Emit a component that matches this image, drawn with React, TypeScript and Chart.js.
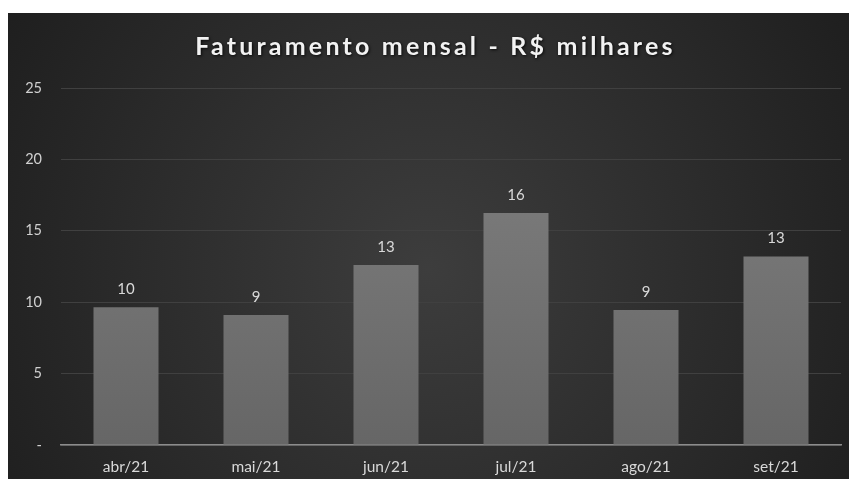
import React, { useEffect, useRef } from "react";
import { Chart, registerables } from "chart.js";

Chart.register(...registerables);

const title = "Faturamento mensal - R$ milhares";
const months = ["abr/21", "mai/21", "jun/21", "jul/21", "ago/21", "set/21"];
const revenue = [9.65, 9.1, 12.6, 16.25, 9.45, 13.2];
const yMin = 0;
const yMax = 25;
const yStep = 5;

const FONT = "Lato, 'Open Sans', sans-serif";

const bgPlugin = {
  id: "bg",
  beforeDraw(chart: any) {
    const { ctx, width, height } = chart;
    ctx.save();
    const g = ctx.createRadialGradient(width * 0.5, height * 0.55, 0, width * 0.5, height * 0.55, width * 0.62);
    g.addColorStop(0, "#3d3d3d");
    g.addColorStop(1, "#1d1d1d");
    ctx.fillStyle = g;
    ctx.fillRect(0, 0, width, height);
    ctx.restore();
  },
};

const titlePlugin = {
  id: "customTitle",
  afterDraw(chart: any) {
    const { ctx, width } = chart;
    ctx.save();
    ctx.font = `bold 25px ${FONT}`;
    (ctx as any).letterSpacing = "3.2px";
    ctx.textAlign = "center";
    ctx.textBaseline = "middle";
    ctx.shadowColor = "rgba(0,0,0,0.8)";
    ctx.shadowBlur = 3;
    ctx.shadowOffsetX = 1;
    ctx.shadowOffsetY = 1;
    ctx.fillStyle = "#f2f2f2";
    ctx.fillText(title, width / 2 + 7, 34);
    ctx.restore();
  },
};

const labelPlugin = {
  id: "valueLabels",
  afterDatasetsDraw(chart: any) {
    const { ctx } = chart;
    const meta = chart.getDatasetMeta(0);
    ctx.save();
    ctx.font = `15px ${FONT}`;
    ctx.fillStyle = "#d9d9d9";
    ctx.textAlign = "center";
    ctx.textBaseline = "middle";
    meta.data.forEach((bar: any, i: number) => {
      const v = chart.data.datasets[0].data[i] as number;
      ctx.fillText(String(Math.round(v)), bar.x, bar.y - 18);
    });
    ctx.restore();
  },
};

export default function App() {
  const ref = useRef<HTMLCanvasElement>(null);
  useEffect(() => {
    if (!ref.current) return;
    const chart = new Chart(ref.current, {
      type: "bar",
      data: {
        labels: months,
        datasets: [
          {
            data: revenue,
            backgroundColor: (c: any) => {
              const area = c.chart.chartArea;
              if (!area) return "#707070";
              const g = c.chart.ctx.createLinearGradient(0, area.top, 0, area.bottom);
              g.addColorStop(0, "#828282");
              g.addColorStop(1, "#666666");
              return g;
            },
            borderWidth: 0,
            categoryPercentage: 1,
            barPercentage: 0.5,
          },
        ],
      },
      options: {
        animation: false,
        responsive: false,
        maintainAspectRatio: false,
        layout: { padding: { top: 75, right: 8, left: 0, bottom: 0 } },
        plugins: { legend: { display: false }, title: { display: false }, tooltip: { enabled: false } },
        scales: {
          x: {
            grid: { display: false, drawTicks: false },
            border: { display: true, color: "#8c8c8c", width: 1.5 },
            ticks: { color: "#d9d9d9", font: { family: FONT, size: 15.5 }, padding: 13 },
            afterFit(axis: any) {
              axis.height = 34;
            },
          },
          y: {
            min: yMin,
            max: yMax,
            ticks: {
              stepSize: yStep,
              color: "#d0d0d0",
              font: { family: FONT, size: 14.5 },
              padding: 19,
              callback: (v: any) => (Number(v) === 0 ? "-" : String(v)),
            },
            grid: { color: "#404040", lineWidth: 1, drawTicks: false },
            border: { display: false },
            afterFit(axis: any) {
              axis.width = 53;
            },
          },
        },
      },
      plugins: [bgPlugin, titlePlugin, labelPlugin],
    });
    return () => chart.destroy();
  }, []);
  return (
    <div style={{ position: "fixed", left: 8, top: 13, width: 841, height: 466 }}>
      <canvas ref={ref} width={841} height={466} style={{ display: "block" }} />
    </div>
  );
}
